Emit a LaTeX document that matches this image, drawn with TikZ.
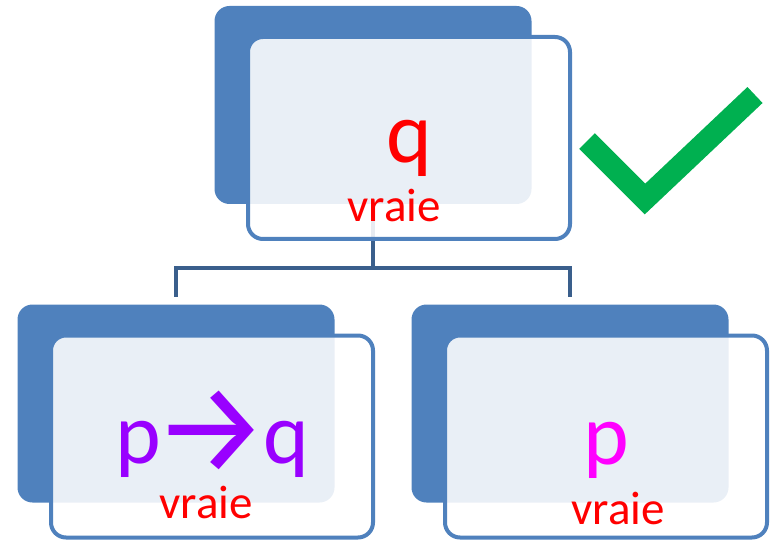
\documentclass[tikz,border=0pt]{standalone}
\usepackage{fontspec}
\setmainfont{Carlito}
\newfontfamily\arrowfont{Fira Sans}
\usepackage{tikz}
\usetikzlibrary{calc}

\definecolor{accent}{HTML}{4F81BD}
\definecolor{linkblue}{HTML}{3A5F8C}
\definecolor{okgreen}{HTML}{00B050}
\definecolor{implpurple}{HTML}{9900FF}
\definecolor{atompink}{HTML}{FF00FF}

\tikzset{
  back/.style={fill=accent,rounded corners=15pt,inner sep=0pt,
               minimum width=317pt,minimum height=198pt},
  card/.style={draw=accent,line width=4pt,fill=white,fill opacity=0.88,
               rounded corners=15pt,inner sep=0pt,
               minimum width=322pt,minimum height=202pt},
  link/.style={draw=linkblue,line width=3.5pt},
  big/.style={anchor=base,inner sep=0pt,font=\fontsize{87}{87}\selectfont},
  verdict/.style={anchor=base,inner sep=0pt,text=red,
                  font=\fontsize{47}{47}\selectfont},
}
\newcommand{\implies}{\kern-7pt\raisebox{-9pt}{\arrowfont\fontsize{128}{128}\selectfont →}\kern-6pt}

\begin{document}
\begin{tikzpicture}[x=1pt,y=-1pt]
  \useasboundingbox (0,0) rectangle (771,540) ;
%
  % back plates
  \node [back] (qback) at (373,105) {} ;
  \node [back] (lback) at (176,403.5) {} ;
  \node [back] (rback) at (570,403.5) {} ;
%
  % tree links
  \draw [link,shorten >=7pt] (qback.south) -- ++(0,64) -| (lback.north) ;
  \draw [link,shorten >=7pt] (qback.south) -- ++(0,64) -| (rback.north) ;
%
  % front cards
  \node [card] (qcard) at ($(qback)+(36,33)$) {} ;
  \node [card] (lcard) at ($(lback)+(36,33)$) {} ;
  \node [card] (rcard) at ($(rback)+(36,33)$) {} ;
%
  \node [big,text=red] (q) at ($(qcard)+(0,25)$) {q} ;
  \node [verdict] (qv) at ($(qcard)+(-15,84)$) {vraie} ;
  \node [big,text=implpurple] (pq) at ($(lcard)+(0,27)$) {p\implies q} ;
  \node [verdict] (pqv) at ($(lcard)+(-6,82)$) {vraie} ;
  \node [big,text=atompink] (p) at ($(rcard)+(0,28)$) {p} ;
  \node [verdict] (pv) at ($(rcard)+(12,88)$) {vraie} ;
%
  % check mark
  \draw [okgreen,line width=22pt,miter limit=4]
    (587,141) -- (645,199) -- (755,95) ;

\end{tikzpicture}
\end{document}
